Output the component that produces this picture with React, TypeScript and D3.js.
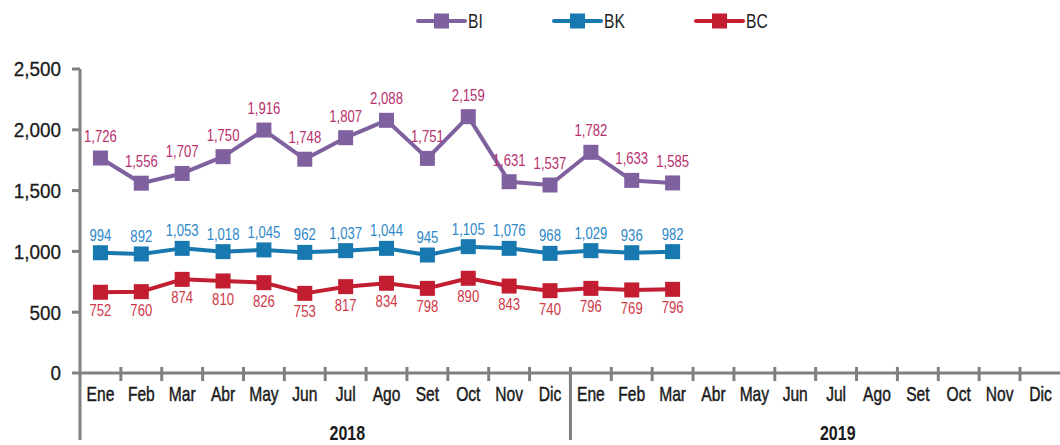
import React from "react";
import * as d3 from "d3";

const months = ["Ene","Feb","Mar","Abr","May","Jun","Jul","Ago","Set","Oct","Nov","Dic"];
const years = ["2018", "2019"];
const categories = years.flatMap((y) => months.map((m) => `${m}-${y}`));

// plotted values
const biValues = [1768, 1561, 1641, 1779, 1998, 1758, 1935, 2078, 1765, 2108, 1573, 1546, 1815, 1584, 1563];
const bkValues = [989, 979, 1025, 998, 1012, 992, 1006, 1025, 970, 1039, 1025, 984, 1006, 989, 998];
const bcValues = [664, 669, 770, 757, 743, 655, 710, 738, 696, 779, 715, 677, 696, 683, 688];

// data labels as printed
const biLabels = ["1,726","1,556","1,707","1,750","1,916","1,748","1,807","2,088","1,751","2,159","1,631","1,537","1,782","1,633","1,585"];
const bkLabels = ["994","892","1,053","1,018","1,045","962","1,037","1,044","945","1,105","1,076","968","1,029","936","982"];
const bcLabels = ["752","760","874","810","826","753","817","834","798","890","843","740","796","769","796"];

const yTicks = [0, 500, 1000, 1500, 2000, 2500];

const W = 1060, H = 445;
const X0 = 80, STEP = 40.87, Y0 = 373, Y1 = 69;
const AXIS = "#808080";
const FONT = "'Liberation Sans', Arial, sans-serif";

const series = [
  { name: "BI", color: "#8061a0", labelColor: "#b8306e", values: biValues, labels: biLabels, dy: -16 },
  { name: "BK", color: "#1878b0", labelColor: "#2e88c8", values: bkValues, labels: bkLabels, dy: -12 },
  { name: "BC", color: "#c21d30", labelColor: "#d03848", values: bcValues, labels: bcLabels, dy: 24 },
];
const legendX = [418, 554, 696];

function T(props: { x: number; y: number; sx?: number; size: number; fill: string; anchor?: string; weight?: string; dy?: string; heavy?: number; children: React.ReactNode }) {
  const { x, y, sx = 0.8, size, fill, anchor = "middle", weight = "normal", dy = "0", heavy = 0, children } = props;
  return (
    <g transform={`translate(${x},${y}) scale(${sx},1)`}>
      <text x={0} y={0} dy={dy} textAnchor={anchor} fontFamily={FONT} fontSize={size} fontWeight={weight} fill={fill}
        stroke={heavy ? fill : "none"} strokeWidth={heavy}>
        {children}
      </text>
    </g>
  );
}

export default function App() {
  const x = d3.scaleBand<string>().domain(categories).range([X0, X0 + STEP * categories.length]).padding(0);
  const y = d3.scaleLinear().domain([0, 2500]).range([Y0, Y1]);
  const cx = (i: number) => (x(categories[i]) as number) + x.bandwidth() / 2;
  const line = d3.line<number>().x((_, i) => cx(i)).y((v) => y(v));
  const M = 15;

  return (
    <svg width={W} height={H} style={{ position: "absolute", left: 0, top: 0, background: "#fff" }}>
      {/* legend */}
      {series.map((s, k) => (
        <g key={s.name} transform={`translate(${legendX[k]},21)`}>
          <line x1={0} x2={47} y1={0} y2={0} stroke={s.color} strokeWidth={4} strokeLinecap="round" />
          <rect x={23.5 - M / 2} y={-M / 2} width={M} height={M} fill={s.color} />
          <T x={50} y={0} dy="0.35em" size={20} sx={0.78} anchor="start" fill="#222">{s.name}</T>
        </g>
      ))}

      {/* y axis */}
      <line x1={X0} x2={X0} y1={Y1} y2={Y0} stroke={AXIS} strokeWidth={3} />
      {yTicks.map((t) => (
        <g key={t}>
          <line x1={X0 - 8} x2={X0} y1={y(t)} y2={y(t)} stroke={AXIS} strokeWidth={3} />
          <T x={61} y={y(t)} dy="0.35em" anchor="end" size={21} sx={0.9} fill="#1a1a1a" heavy={0.3}>
            {d3.format(",")(t)}
          </T>
        </g>
      ))}

      {/* x axis */}
      <line x1={X0} x2={W} y1={Y0} y2={Y0} stroke={AXIS} strokeWidth={3} />
      {categories.map((c, i) => {
        const bx = x(c) as number;
        return i === 0 ? null : (
          <line key={c} x1={bx} x2={bx} y1={Y0 - 6} y2={Y0 + 8} stroke={AXIS} strokeWidth={3} />
        );
      })}
      {categories.map((c, i) => (
        <T key={"l" + c} x={cx(i)} y={394} dy="0.35em" size={20} sx={0.78} heavy={0.45} fill="#1a1a1a">
          {months[i % 12]}
        </T>
      ))}
      {years.map((yr, k) => {
        const a = x(categories[k * 12]) as number;
        const b = a + STEP * 12;
        return (
          <g key={yr}>
            <line x1={a} x2={a} y1={Y0} y2={440} stroke={AXIS} strokeWidth={3} />
            <T x={a + 0.545 * (b - a)} y={433} dy="0.35em" size={20} sx={0.8} weight="bold" fill="#1a1a1a">
              {yr}
            </T>
          </g>
        );
      })}

      {/* series */}
      {series.map((s) => (
        <g key={s.name}>
          <path d={line(s.values) || ""} fill="none" stroke={s.color} strokeWidth={4} strokeLinejoin="round" />
          {s.values.map((v, i) => (
            <rect key={i} x={cx(i) - M / 2} y={y(v) - M / 2} width={M} height={M} fill={s.color} />
          ))}
          {s.values.map((v, i) => (
            <T key={"t" + i} x={cx(i)} y={y(v) + s.dy} size={16} sx={0.82} fill={s.labelColor}>
              {s.labels[i]}
            </T>
          ))}
        </g>
      ))}
    </svg>
  );
}
